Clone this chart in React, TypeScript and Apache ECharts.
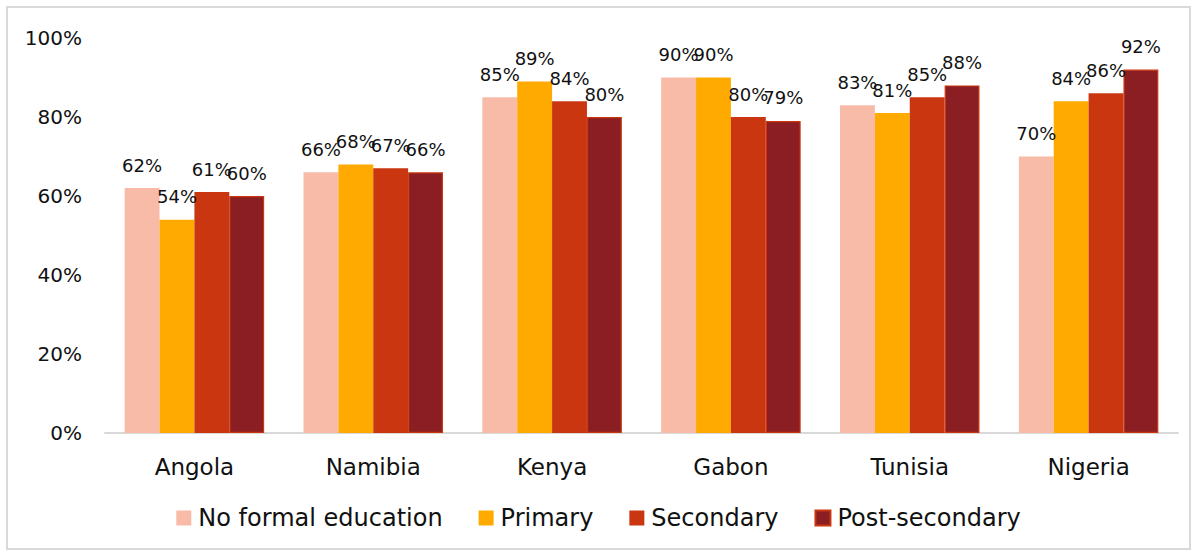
import React, { useEffect, useRef } from "react";
import * as echarts from "echarts";

const categories = ["Angola", "Namibia", "Kenya", "Gabon", "Tunisia", "Nigeria"];
const noFormal = [62, 66, 85, 90, 83, 70];
const primary = [54, 68, 89, 90, 81, 84];
const secondary = [61, 67, 84, 80, 85, 86];
const postSecondary = [60, 66, 80, 79, 88, 92];
const yTicks = [0, 20, 40, 60, 80, 100];

const FONT = "'DejaVu Sans', sans-serif";

export default function App() {
  const ref = useRef<HTMLDivElement>(null);
  useEffect(() => {
    if (!ref.current) return;
    const chart = echarts.init(ref.current, null, { renderer: "svg" });
    const label = {
      show: true,
      position: "top",
      distance: 14,
      color: "#111",
      fontFamily: FONT,
      fontSize: 18,
      formatter: (p: any) => Math.round(p.value) + "%",
    };
    const mk = (name: string, data: number[], color: string, border?: string) => ({
      name,
      type: "bar",
      data,
      barGap: "0%",
      barCategoryGap: "22%",
      itemStyle: border ? { color, borderColor: border, borderWidth: 1.2 } : { color },
      label,
    });
    chart.setOption({
      animation: false,
      backgroundColor: "#fff",
      textStyle: { fontFamily: FONT },
      graphic: [
        {
          type: "rect",
          shape: { x: 7, y: 7, width: 1183, height: 542 },
          style: { fill: "none", stroke: "#D9D9D9", lineWidth: 2 },
          silent: true,
        },
      ],
      grid: { left: 105, right: 19, top: 38, bottom: 124, containLabel: false },
      legend: {
        bottom: 22,
        left: "center",
        itemWidth: 15,
        itemHeight: 15,
        itemGap: 36,
        icon: "rect",
        textStyle: { fontSize: 24, color: "#111", fontFamily: FONT, padding: [0, 0, 0, 2] },
        data: ["No formal education", "Primary", "Secondary", "Post-secondary"],
      },
      xAxis: {
        type: "category",
        data: categories,
        axisLine: { lineStyle: { color: "#D9D9D9", width: 2 } },
        axisTick: { show: false },
        axisLabel: { fontSize: 23, color: "#111", margin: 22, fontFamily: FONT },
      },
      yAxis: {
        type: "value",
        min: yTicks[0],
        max: yTicks[yTicks.length - 1],
        interval: 20,
        splitLine: { show: false },
        axisLine: { show: false },
        axisTick: { show: false },
        axisLabel: { fontSize: 20, color: "#111", margin: 23, formatter: "{value}%", fontFamily: FONT },
      },
      series: [
        mk("No formal education", noFormal, "#F8BBA8"),
        mk("Primary", primary, "#FFAA00"),
        mk("Secondary", secondary, "#C9360F"),
        mk("Post-secondary", postSecondary, "#8A1E22", "#C9360F"),
      ],
    });
    return () => chart.dispose();
  }, []);
  return (
    <div
      ref={ref}
      style={{ position: "fixed", left: 0, top: 0, width: 1197, height: 557 }}
    />
  );
}
